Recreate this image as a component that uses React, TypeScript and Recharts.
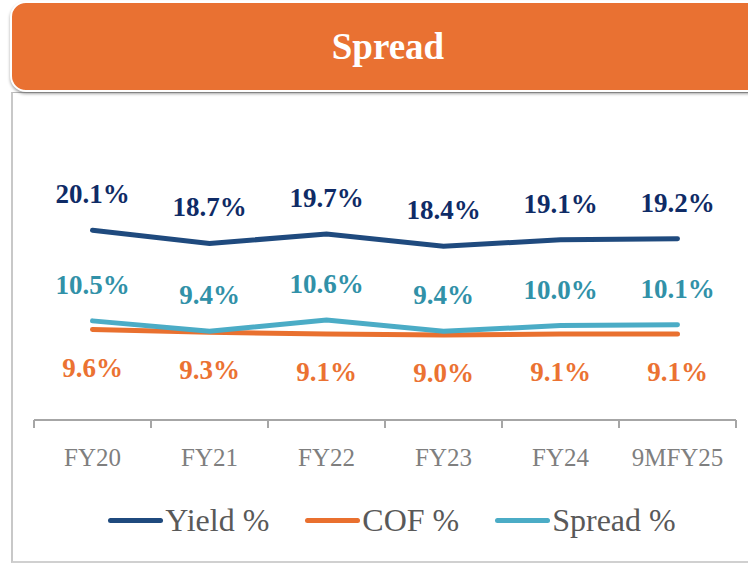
import React from "react";
import { LineChart, Line, XAxis, YAxis, Legend, LabelList } from "recharts";

const years = ["FY20", "FY21", "FY22", "FY23", "FY24", "9MFY25"];
const yieldPct = [20.1, 18.7, 19.7, 18.4, 19.1, 19.2];
const cofPct = [9.6, 9.3, 9.1, 9.0, 9.1, 9.1];
const spreadPct = [10.5, 9.4, 10.6, 9.4, 10.0, 10.1];

const W = 748;
const H = 563;
const MARGIN = { top: 184, right: 12, left: 34, bottom: 23 };
const BAND = (W - MARGIN.left - MARGIN.right) / years.length;
const FONT = '"Liberation Serif", "DejaVu Serif", serif';

const series = [
  { key: "yield", name: "Yield %", color: "#1F4A7E", label: "#0F2B66", pos: "top" as const, offset: 27 },
  { key: "cof", name: "COF %", color: "#E9702F", label: "#EB7232", pos: "bottom" as const, offset: 28 },
  { key: "spread", name: "Spread %", color: "#4BACC6", label: "#3191A8", pos: "top" as const, offset: 27 },
];

const data = years.map((year, i) => ({
  year,
  yield: yieldPct[i],
  cof: cofPct[i],
  spread: spreadPct[i],
}));

const fmt = (v: any) => `${Number(v).toFixed(1)}%`;

function YearTick(props: any) {
  const { x, y, payload, index } = props;
  const half = BAND / 2;
  return (
    <g>
      <line x1={x - half} x2={x - half} y1={y} y2={y + 8} stroke="#A6A6A6" strokeWidth={2} />
      {index === years.length - 1 && (
        <line x1={x + half} x2={x + half} y1={y} y2={y + 8} stroke="#A6A6A6" strokeWidth={2} />
      )}
      <text x={x} y={y + 46} textAnchor="middle" fill="#7F7F7F" fontSize={25} fontFamily={FONT}>
        {payload.value}
      </text>
    </g>
  );
}

function LegendBox() {
  return (
    <div
      style={{
        height: 40,
        display: "flex",
        justifyContent: "center",
        alignItems: "center",
        gap: 36,
        fontFamily: FONT,
        fontSize: 32,
        color: "#595959",
        paddingLeft: 14,
      }}
    >
      {series.map((s) => (
        <div key={s.key} style={{ display: "flex", alignItems: "center" }}>
          <span style={{ width: 55, height: 5, borderRadius: 3, background: s.color, marginRight: 2 }} />
          <span style={{ fontFamily: FONT }}>{s.name}</span>
        </div>
      ))}
    </div>
  );
}

export default function App() {
  return (
    <div
      style={{
        position: "absolute",
        left: 0,
        top: 0,
        width: W,
        height: H,
        overflow: "hidden",
        background: "#fff",
        fontFamily: FONT,
      }}
    >
      <div
        style={{
          position: "absolute",
          left: 11,
          top: 92,
          width: 760,
          height: 468,
          borderLeft: "2px solid #C8C8C8",
          borderBottom: "2px solid #D0D0D0",
          borderTop: "1px solid #BBBBBB",
        }}
      />
      <div
        style={{
          position: "absolute",
          left: 10,
          top: 1,
          width: 752,
          height: 87,
          background: "#E97132",
          borderRadius: 16,
          border: "2px solid #fff",
          boxShadow: "0 2px 3px rgba(0,0,0,0.35)",
          color: "#fff",
          fontWeight: "bold",
          fontSize: 37,
          lineHeight: "88px",
          textAlign: "center",
        }}
      >
        Spread
      </div>
      <div style={{ position: "absolute", left: 0, top: 0 }}>
        <LineChart width={W} height={H} data={data} margin={MARGIN}>
          <YAxis hide domain={[0, 25]} />
          <XAxis
            dataKey="year"
            height={80}
            padding={{ left: BAND / 2, right: BAND / 2 }}
            axisLine={{ stroke: "#A6A6A6", strokeWidth: 2 }}
            tickLine={false}
            tickSize={0}
            tickMargin={0}
            interval={0}
            tick={<YearTick />}
          />
          <Legend verticalAlign="bottom" height={40} content={() => <LegendBox />} />
          {series.map((s) => (
            <Line
              key={s.key}
              type="linear"
              dataKey={s.key}
              name={s.name}
              stroke={s.color}
              strokeWidth={5}
              strokeLinecap="round"
              dot={false}
              activeDot={false}
              isAnimationActive={false}
            >
              <LabelList
                dataKey={s.key}
                position={s.pos}
                offset={s.offset}
                formatter={fmt}
                fill={s.label}
                fontSize={27}
                fontWeight="bold"
                fontFamily={FONT}
              />
            </Line>
          ))}
        </LineChart>
      </div>
    </div>
  );
}
